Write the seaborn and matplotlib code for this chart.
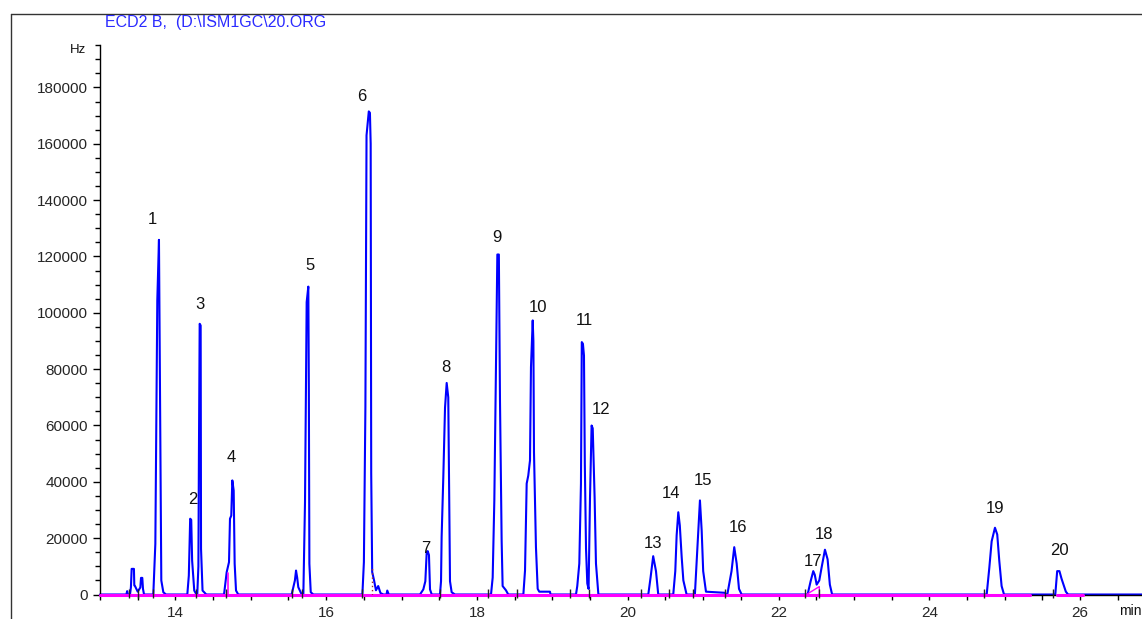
import numpy as np
import pandas as pd
import seaborn as sns
import matplotlib.pyplot as plt
from matplotlib.ticker import MultipleLocator, FixedLocator
from matplotlib.lines import Line2D

# chromatogram trace (retention time in min, signal in Hz)
trace_min = [13.00, 13.35, 13.36, 13.37,
             13.398, 13.41, 13.42, 13.45, 13.455, 13.464, 13.50, 13.535, 13.544, 13.561, 13.57, 13.584,
             13.707, 13.734, 13.76, 13.782, 13.795, 13.813, 13.84, 13.875,
             14.158, 14.178, 14.196, 14.21, 14.222, 14.25, 14.28,
             14.29, 14.305, 14.312, 14.322, 14.335, 14.34, 14.36, 14.41,
             14.645, 14.68, 14.711, 14.724, 14.741, 14.755, 14.773, 14.786, 14.804, 14.834,
             15.542, 15.585, 15.60, 15.615, 15.63, 15.675,
             15.697, 15.719, 15.741, 15.763, 15.77, 15.777, 15.795, 15.83,
             16.48, 16.50, 16.52, 16.535, 16.565, 16.58, 16.59, 16.597, 16.61, 16.635, 16.66, 16.69, 16.72, 16.76,
             16.80, 16.81, 16.83,
             17.244, 17.288, 17.315, 17.333, 17.346, 17.363, 17.377, 17.40,
             17.509, 17.523, 17.531, 17.553, 17.576, 17.598, 17.619, 17.642, 17.664, 17.708,
             18.186, 18.208, 18.23, 18.252, 18.27, 18.29, 18.305, 18.327, 18.34, 18.384, 18.415,
             18.615, 18.637, 18.659, 18.68, 18.703, 18.716, 18.739, 18.748, 18.756, 18.782, 18.805, 18.826, 18.968, 18.975,
             19.313, 19.33, 19.357, 19.379, 19.39, 19.405, 19.419, 19.43, 19.446, 19.463, 19.48,
             19.499, 19.52, 19.535, 19.56, 19.578, 19.61,
             20.272, 20.302, 20.337, 20.374, 20.404,
             20.603, 20.63, 20.648, 20.67, 20.69, 20.715, 20.737, 20.78,
             20.89, 20.912, 20.935, 20.957, 20.98, 21.0, 21.037, 21.29, 21.30,
             21.32, 21.376, 21.412, 21.444, 21.475, 21.51,
             22.385, 22.425, 22.46, 22.48, 22.505, 22.54, 22.57, 22.615, 22.65, 22.68, 22.71,
             24.76, 24.795, 24.826, 24.87, 24.90, 24.927, 24.958, 24.99,
             25.67, 25.695, 25.725, 25.753, 25.785, 25.81, 25.84,
             26.82]
trace_hz = [0, 0, 1200, 0,
            0, 2600, 9100, 9100, 3200, 3000, 1000, 2500, 5900, 5900, 2000, 0,
            0, 18000, 104400, 125900, 73000, 5000, 800, 0,
            0, 6700, 26900, 26500, 12000, 1400, 0,
            0, 10000, 49300, 96100, 95500, 16200, 1400, 0,
            0, 7900, 11500, 26900, 28000, 40500, 36900, 10900, 1400, 0,
            0, 5000, 8500, 6000, 2600, 0,
            0, 32800, 103800, 109300, 72400, 10900, 800, 0,
            0, 11500, 66500, 163000, 171500, 171000, 160000, 43000, 8000, 5000, 1500, 3000, 500, 0,
            0, 1400, 0,
            0, 1800, 4700, 15000, 15400, 14000, 1800, 0,
            0, 4700, 20400, 41400, 66300, 75100, 70000, 4700, 800, 0,
            0, 6000, 33400, 80200, 120700, 120700, 68900, 19000, 3000, 1500, 0,
            0, 8500, 39400, 42200, 47600, 80700, 97300, 90000, 50500, 16800, 2000, 1000, 1000, 0,
            0, 3000, 11000, 39400, 89600, 89000, 84800, 46500, 16300, 3900, 2000,
            34500, 60000, 59000, 34500, 11000, 0,
            0, 6000, 13600, 8300, 0,
            0, 8300, 21000, 29200, 24500, 13200, 5000, 0,
            0, 11000, 22700, 33400, 22700, 8300, 1000, 600, 0,
            0, 8300, 16800, 11000, 2000, 0,
            0, 4700, 8300, 7000, 3500, 5000, 9500, 15900, 12500, 3500, 0,
            0, 9500, 18900, 23700, 21300, 12000, 3000, 0,
            0, 8300, 8300, 5600, 3000, 1000, 0,
            0]

# peak numbers and where they are written
peak_no = [str(i) for i in range(1, 21)]
label_min = [13.69, 14.23, 14.33, 14.74, 15.78, 16.47, 17.32, 17.59, 18.27, 18.81,
             19.42, 19.64, 20.33, 20.57, 21.00, 21.46, 22.46, 22.60, 24.87, 25.73]
label_hz = [133000, 33700, 103000, 48600, 116700, 176800, 16400, 80600, 126700, 101900,
            97200, 65600, 18100, 35900, 40500, 23800, 11700, 21300, 30500, 15600]

# integration baseline (magenta) pieces
base_start = [13.00, 25.69]
base_end = [25.334, 26.04]

# integrator start/stop marks on the baseline
mark_min = [13.38, 13.51, 13.70, 14.27, 14.67, 15.55, 15.68, 16.47, 17.51,
            18.14, 18.53, 19.23, 19.48, 20.18, 20.55, 20.87, 21.29, 22.35, 22.53, 24.72, 25.64]

df = pd.DataFrame({"min": trace_min, "Hz": trace_hz})

sns.set_theme(style="white")
plt.rcParams["font.family"] = ["Liberation Sans", "DejaVu Sans"]

fig = plt.figure(figsize=(11.42, 6.19), dpi=100)
ax = fig.add_axes([100 / 1142, 24.5 / 619, 1042 / 1142, 549.3 / 619])

sns.lineplot(data=df, x="min", y="Hz", ax=ax, color="#0000ff", lw=1.5,
             estimator=None, sort=False, clip_on=False)

for a, b in zip(base_start, base_end):
    ax.plot([a, b], [0, 0], color="#ff00ff", lw=2.2, clip_on=False, zorder=4)
# small drop lines of the integrator
ax.plot([22.37, 22.54, 22.54], [0, 2800, 0], color="#ff00ff", lw=1, clip_on=False, zorder=4)
ax.plot([14.70, 14.70], [0, 7500], color="#ff00ff", lw=1.2, clip_on=False, zorder=4)
ax.plot([16.61, 16.61], [0, 10000], color="#a03030", lw=1, ls=(0, (1, 2)), zorder=4)
ax.vlines(mark_min, -1200, 2000, color="#222222", lw=1, clip_on=False, zorder=5)

for s, x, y in zip(peak_no, label_min, label_hz):
    ax.text(x, y, s, ha="center", va="center", fontsize=12, color="#111111")

ax.set_xlim(13.0, 26.82)
ax.set_ylim(0, 195000)
ax.set_xlabel("")
ax.set_ylabel("")

ax.xaxis.set_major_locator(FixedLocator([14, 16, 18, 20, 22, 24, 26]))
ax.xaxis.set_minor_locator(MultipleLocator(0.5))
ax.yaxis.set_major_locator(MultipleLocator(20000))
ax.yaxis.set_minor_locator(MultipleLocator(5000))
ax.yaxis.set_major_formatter(plt.FuncFormatter(lambda v, p: "%d" % v))

ax.tick_params(axis="x", which="both", direction="out", length=3.5, width=1,
               color="black", labelsize=11, pad=5, bottom=True)
ax.tick_params(axis="y", which="major", direction="out", length=5, width=1,
               color="black", labelsize=11, pad=3.5, left=True)
ax.tick_params(axis="y", which="minor", direction="out", length=3.5, width=1,
               color="black", left=True)

for side in ["top", "right"]:
    ax.spines[side].set_visible(False)
for side in ["left", "bottom"]:
    ax.spines[side].set_color("black")
    ax.spines[side].set_linewidth(1)
ax.patch.set_alpha(0)

# outer window frame
fig.add_artist(Line2D([11 / 1142, 1.0], [1 - 14 / 619, 1 - 14 / 619], color="#333333", lw=1))
fig.add_artist(Line2D([11 / 1142, 11 / 1142], [0, 1 - 14 / 619], color="#333333", lw=1))

fig.text(105 / 1142, 1 - 23 / 619, "ECD2 B,  (D:\\ISM1GC\\20.ORG", color="#2b2bff",
         fontsize=11.5, ha="left", va="center")
fig.text(78 / 1142, 1 - 50 / 619, "Hz", fontsize=9.5, ha="center", va="center", color="#111111")
fig.text(1119 / 1142, 1 - 611 / 619, "min", fontsize=10, ha="left", va="center", color="#111111")

fig.savefig("out.png", dpi=100)
